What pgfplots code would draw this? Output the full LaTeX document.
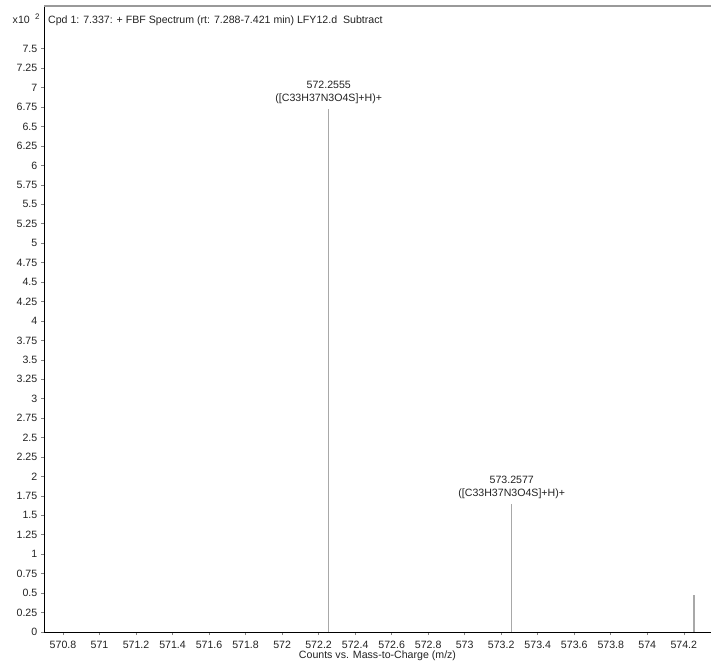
\documentclass[border=0pt]{standalone}
\usepackage{fontspec}
\setmainfont{Liberation Sans}
\usepackage{pgfplots}
\pgfplotsset{compat=1.18}
\definecolor{peak}{HTML}{A8A8A8}
\definecolor{txt}{HTML}{222222}
\begin{document}
\fontsize{10.6bp}{12bp}\selectfont
\begin{tikzpicture}
\begin{axis}[
  scale only axis,
  width=667bp, height=626bp,
  at={(0,0)}, anchor=south west,
  xmin=570.696, xmax=574.349,
  ymin=0, ymax=8.05,
  axis line style={draw=none},
  tick align=outside,
  major tick length=3bp,
  tick style={color=gray, line width=0.6bp},
  xtick={570.8,571,571.2,571.4,571.6,571.8,572,572.2,572.4,572.6,572.8,573,573.2,573.4,573.6,573.8,574,574.2},
  xticklabels={570.8,571,571.2,571.4,571.6,571.8,572,572.2,572.4,572.6,572.8,573,573.2,573.4,573.6,573.8,574,574.2},
  ytick={0,0.25,...,7.5},
  yticklabel style={/pgf/number format/fixed,/pgf/number format/precision=2},
  scaled ticks=false,
  /pgf/number format/assume math mode=true,
  tick label style={font=\fontsize{10.6bp}{12bp}\selectfont, text=txt},
  xtick pos=bottom, ytick pos=left,
  xticklabel style={yshift=-2bp},
  xlabel={Counts vs. Mass-to-Charge (m/z)},
  xlabel style={font=\fontsize{10.6bp}{12bp}\selectfont, text=txt, yshift=5bp},
  clip=false,
]
\addplot[ycomb, peak, line width=1.3bp, mark=none] coordinates {
  (572.2555,6.73) (573.2577,1.65) (574.256,0.48)
};
\draw[black, line width=0.9bp] (rel axis cs:0,0) -- (rel axis cs:1,0);
\draw[black, line width=0.9bp] (rel axis cs:0,0) -- (rel axis cs:0,1);
\draw[gray!80, line width=1.2bp] (rel axis cs:0,1) -- (rel axis cs:1,1);
\node[anchor=south, align=center, text=txt, font=\fontsize{10.6bp}{13bp}\selectfont, inner sep=1bp] at (axis cs:572.2555,6.78) {572.2555\\([C33H37N3O4S]+H)+};
\node[anchor=south, align=center, text=txt, font=\fontsize{10.6bp}{13bp}\selectfont, inner sep=1bp] at (axis cs:573.2577,1.70) {573.2577\\([C33H37N3O4S]+H)+};
\node[anchor=base west, text=txt, inner sep=0pt] at ([xshift=4bp,yshift=-18bp]rel axis cs:0,1) {Cpd 1: 7.337: + FBF Spectrum (rt: 7.288-7.421 min) LFY12.d\ \ Subtract};
\node[anchor=base east, text=txt, inner sep=0pt] at ([xshift=-14bp,yshift=-18bp]rel axis cs:0,1) {x10};
\node[anchor=base west, text=txt, inner sep=0pt, font=\fontsize{8bp}{9bp}\selectfont] at ([xshift=-9bp,yshift=-14bp]rel axis cs:0,1) {2};
\end{axis}
\pgfresetboundingbox
\path[use as bounding box] (-44bp,-32bp) rectangle (667bp,632bp);
\end{tikzpicture}
\end{document}
